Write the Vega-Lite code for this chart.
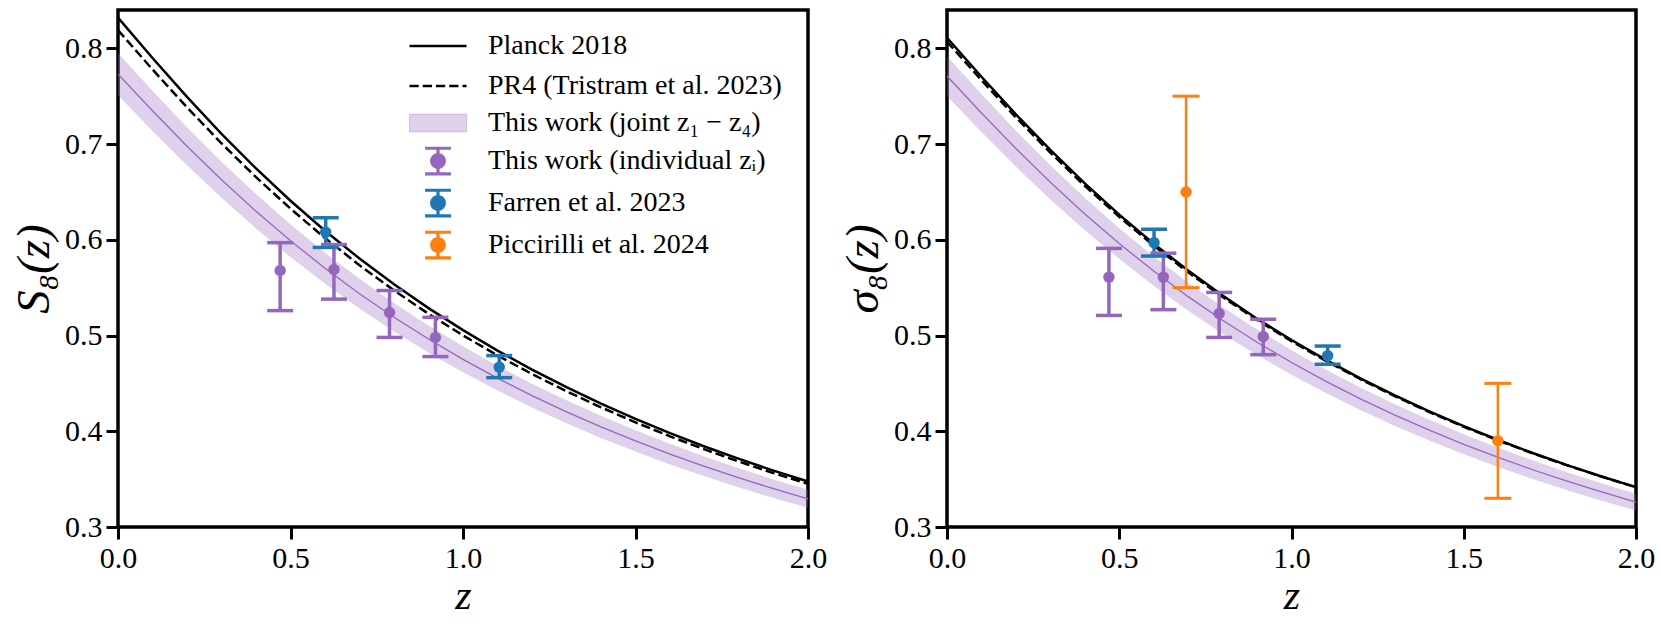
{
  "$schema": "https://vega.github.io/schema/vega-lite/v6.json",
  "background": "white",
  "padding": {"left": 8, "top": 8, "right": 0, "bottom": 0},
  "bounds": "flush",
  "spacing": 139,
  "config": {
    "font": "Liberation Serif",
    "view": {"stroke": "black", "strokeWidth": 3.5},
    "axis": {
      "domain": false, "grid": false, "ticks": true, "tickSize": 12, "tickWidth": 3, "tickColor": "black",
      "labelFont": "Liberation Serif", "labelFontSize": 30, "labelColor": "black", "labelPadding": 4, "labelFlush": false,
      "titleFont": "Liberation Serif", "titleFontSize": 42, "titleFontWeight": "normal", "titleFontStyle": "italic", "titleColor": "black"
    },
    "legend": {"labelFont": "Liberation Serif"}
  },
  "datasets": {
    "lc": [
      {"z":0.0,"planck":0.8320,"pr4":0.8190,"mid":0.7730,"lo":0.7510,"hi":0.7950},
      {"z":0.1,"planck":0.7898,"pr4":0.7779,"mid":0.7347,"lo":0.7137,"hi":0.7556},
      {"z":0.2,"planck":0.7492,"pr4":0.7383,"mid":0.6977,"lo":0.6779,"hi":0.7176},
      {"z":0.3,"planck":0.7107,"pr4":0.7007,"mid":0.6627,"lo":0.6438,"hi":0.6816},
      {"z":0.4,"planck":0.6745,"pr4":0.6654,"mid":0.6297,"lo":0.6118,"hi":0.6477},
      {"z":0.5,"planck":0.6408,"pr4":0.6325,"mid":0.5990,"lo":0.5819,"hi":0.6160},
      {"z":0.6,"planck":0.6095,"pr4":0.6018,"mid":0.5703,"lo":0.5541,"hi":0.5866},
      {"z":0.7,"planck":0.5804,"pr4":0.5734,"mid":0.5437,"lo":0.5282,"hi":0.5592},
      {"z":0.8,"planck":0.5535,"pr4":0.5471,"mid":0.5191,"lo":0.5043,"hi":0.5339},
      {"z":0.9,"planck":0.5286,"pr4":0.5227,"mid":0.4963,"lo":0.4821,"hi":0.5104},
      {"z":1.0,"planck":0.5056,"pr4":0.5001,"mid":0.4751,"lo":0.4616,"hi":0.4887},
      {"z":1.1,"planck":0.4842,"pr4":0.4792,"mid":0.4555,"lo":0.4425,"hi":0.4685},
      {"z":1.2,"planck":0.4644,"pr4":0.4598,"mid":0.4373,"lo":0.4248,"hi":0.4497},
      {"z":1.3,"planck":0.4460,"pr4":0.4418,"mid":0.4203,"lo":0.4084,"hi":0.4323},
      {"z":1.4,"planck":0.4289,"pr4":0.4250,"mid":0.4046,"lo":0.3930,"hi":0.4161},
      {"z":1.5,"planck":0.4129,"pr4":0.4093,"mid":0.3899,"lo":0.3788,"hi":0.4010},
      {"z":1.6,"planck":0.3980,"pr4":0.3947,"mid":0.3761,"lo":0.3654,"hi":0.3869},
      {"z":1.7,"planck":0.3841,"pr4":0.3811,"mid":0.3633,"lo":0.3529,"hi":0.3736},
      {"z":1.8,"planck":0.3711,"pr4":0.3683,"mid":0.3513,"lo":0.3413,"hi":0.3613},
      {"z":1.9,"planck":0.3589,"pr4":0.3563,"mid":0.3400,"lo":0.3303,"hi":0.3497},
      {"z":2.0,"planck":0.3475,"pr4":0.3451,"mid":0.3294,"lo":0.3200,"hi":0.3388}
    ],
    "rc": [
      {"z":0.0,"planck":0.8110,"pr4":0.8070,"mid":0.7710,"lo":0.7502,"hi":0.7918},
      {"z":0.1,"planck":0.7703,"pr4":0.7667,"mid":0.7324,"lo":0.7127,"hi":0.7522},
      {"z":0.2,"planck":0.7310,"pr4":0.7278,"mid":0.6953,"lo":0.6765,"hi":0.7140},
      {"z":0.3,"planck":0.6938,"pr4":0.6910,"mid":0.6600,"lo":0.6422,"hi":0.6779},
      {"z":0.4,"planck":0.6589,"pr4":0.6563,"mid":0.6269,"lo":0.6100,"hi":0.6439},
      {"z":0.5,"planck":0.6263,"pr4":0.6240,"mid":0.5960,"lo":0.5799,"hi":0.6121},
      {"z":0.6,"planck":0.5959,"pr4":0.5939,"mid":0.5673,"lo":0.5519,"hi":0.5826},
      {"z":0.7,"planck":0.5678,"pr4":0.5660,"mid":0.5406,"lo":0.5260,"hi":0.5552},
      {"z":0.8,"planck":0.5418,"pr4":0.5402,"mid":0.5159,"lo":0.5019,"hi":0.5298},
      {"z":0.9,"planck":0.5176,"pr4":0.5162,"mid":0.4930,"lo":0.4797,"hi":0.5063},
      {"z":1.0,"planck":0.4953,"pr4":0.4940,"mid":0.4718,"lo":0.4590,"hi":0.4845},
      {"z":1.1,"planck":0.4745,"pr4":0.4735,"mid":0.4521,"lo":0.4399,"hi":0.4643},
      {"z":1.2,"planck":0.4553,"pr4":0.4544,"mid":0.4339,"lo":0.4221,"hi":0.4456},
      {"z":1.3,"planck":0.4374,"pr4":0.4366,"mid":0.4169,"lo":0.4056,"hi":0.4282},
      {"z":1.4,"planck":0.4208,"pr4":0.4201,"mid":0.4011,"lo":0.3903,"hi":0.4120},
      {"z":1.5,"planck":0.4053,"pr4":0.4047,"mid":0.3864,"lo":0.3760,"hi":0.3969},
      {"z":1.6,"planck":0.3909,"pr4":0.3904,"mid":0.3727,"lo":0.3626,"hi":0.3827},
      {"z":1.7,"planck":0.3773,"pr4":0.3769,"mid":0.3598,"lo":0.3501,"hi":0.3696},
      {"z":1.8,"planck":0.3647,"pr4":0.3644,"mid":0.3478,"lo":0.3384,"hi":0.3572},
      {"z":1.9,"planck":0.3528,"pr4":0.3526,"mid":0.3366,"lo":0.3275,"hi":0.3456},
      {"z":2.0,"planck":0.3417,"pr4":0.3415,"mid":0.3260,"lo":0.3172,"hi":0.3348}
    ],
    "lp": [
      {"series":"d","z":0.47,"v":0.568,"lo":0.526,"hi":0.597},
      {"series":"d","z":0.626,"v":0.569,"lo":0.538,"hi":0.595},
      {"series":"d","z":0.787,"v":0.524,"lo":0.498,"hi":0.547},
      {"series":"d","z":0.92,"v":0.498,"lo":0.478,"hi":0.519},
      {"series":"e","z":0.602,"v":0.608,"lo":0.592,"hi":0.623},
      {"series":"e","z":1.105,"v":0.467,"lo":0.456,"hi":0.479}
    ],
    "rp": [
      {"series":"d","z":0.47,"v":0.561,"lo":0.521,"hi":0.591},
      {"series":"d","z":0.628,"v":0.561,"lo":0.527,"hi":0.586},
      {"series":"d","z":0.79,"v":0.523,"lo":0.498,"hi":0.545},
      {"series":"d","z":0.918,"v":0.499,"lo":0.480,"hi":0.517},
      {"series":"e","z":0.601,"v":0.597,"lo":0.583,"hi":0.611},
      {"series":"e","z":1.105,"v":0.479,"lo":0.470,"hi":0.489},
      {"series":"f","z":0.694,"v":0.65,"lo":0.55,"hi":0.75},
      {"series":"f","z":1.599,"v":0.39,"lo":0.33,"hi":0.45}
    ]
  },
  "hconcat": [
    {
      "width": 690, "height": 517,
      "encoding": {
        "x": {"field": "z", "type": "quantitative", "scale": {"domain": [0, 2], "nice": false}, "axis": {"values": [0, 0.5, 1, 1.5, 2], "format": ".1f", "title": "z", "titlePadding": 2}}
      },
      "layer": [
        {"data": {"name": "lc"}, "mark": {"type": "area", "color": "#9467bd", "opacity": 0.3},
         "encoding": {"y": {"field": "lo", "type": "quantitative", "scale": {"domain": [0.3, 0.84], "nice": false, "zero": false}, "axis": {"values": [0.3, 0.4, 0.5, 0.6, 0.7, 0.8], "format": ".1f", "title": "S₈(z)", "titleFontSize": 47, "titlePadding": 6}}, "y2": {"field": "hi"}}},
        {"data": {"name": "lc"}, "mark": {"type": "line", "color": "#9467bd", "strokeWidth": 1.3}, "encoding": {"y": {"field": "mid", "type": "quantitative"}}},
        {"data": {"name": "lc"}, "mark": {"type": "line", "color": "black", "strokeWidth": 2.5}, "encoding": {"y": {"field": "planck", "type": "quantitative"}}},
        {"data": {"name": "lc"}, "mark": {"type": "line", "color": "black", "strokeWidth": 2.5, "strokeDash": [9.25, 4]}, "encoding": {"y": {"field": "pr4", "type": "quantitative"}}},
        {"data": {"name": "lp"}, "mark": {"type": "rule"},
         "encoding": {
           "y": {"field": "lo", "type": "quantitative"}, "y2": {"field": "hi"},
           "strokeWidth": {"condition": {"test": "datum.series === 'f'", "value": 2.5}, "value": 3.5},
           "color": {"field": "series", "type": "nominal",
             "scale": {"domain": ["a","b","c","d","e","f"], "range": ["black","black","#9467bd","#9467bd","#1f77b4","#ff7f0e"]},
             "legend": {
               "title": null, "orient": "none", "legendX": 306, "legendY": 22, "padding": 0,
               "symbolSize": 1225, "symbolStrokeWidth": 3, "rowPadding": 2, "labelOffset": 36,
               "labelFont": "Liberation Serif", "labelFontSize": 28, "labelColor": "black", "labelLimit": 600,
               "labelExpr": "datum.value === 'a' ? 'Planck 2018' : datum.value === 'b' ? 'PR4 (Tristram et al. 2023)' : datum.value === 'c' ? 'This work (joint z₁ − z₄)' : datum.value === 'd' ? 'This work (individual zᵢ)' : datum.value === 'e' ? 'Farren et al. 2023' : 'Piccirilli et al. 2024'",
               "encode": {"symbols": {"update": {
                 "shape": {"signal": "datum.value === 'a' || datum.value === 'b' ? 'M-1.63,0H1.63M0,-0.76L0,-0.76M0,0.76L0,0.76' : datum.value === 'c' ? 'M-1.63,-0.51H1.63V0.51H-1.63ZM0,-0.76L0,-0.76M0,0.76L0,0.76' : 'M-0.74,-0.73H0.74M0,-0.73V0.73M-0.74,0.73H0.74M0,-0.76L0,-0.76M0,0.76L0,0.76M-0.36,0A0.36,0.36 0 1,0 0.36,0A0.36,0.36 0 1,0 -0.36,0Z'"},
                 "stroke": {"signal": "datum.value === 'a' || datum.value === 'b' ? 'black' : datum.value === 'c' || datum.value === 'd' ? '#9467bd' : datum.value === 'e' ? '#1f77b4' : '#ff7f0e'"},
                 "fill": {"signal": "datum.value === 'a' || datum.value === 'b' ? 'transparent' : datum.value === 'c' || datum.value === 'd' ? '#9467bd' : datum.value === 'e' ? '#1f77b4' : '#ff7f0e'"},
                 "fillOpacity": {"signal": "datum.value === 'c' ? 0.3 : 1"},
                 "strokeOpacity": {"signal": "datum.value === 'c' ? 0.3 : 1"},
                 "opacity": {"value": 1},
                 "strokeCap": {"value": "butt"},
                 "strokeWidth": {"signal": "datum.value === 'c' ? 1 : datum.value === 'a' || datum.value === 'b' ? 2.5 : 3.2"},
                 "strokeDash": {"signal": "datum.value === 'b' ? [9.25, 4] : [1, 0]"}
               }}}
             }}
         }},
        {"data": {"name": "lp"}, "transform": [{"filter": "datum.series !== 'f'"}, {"fold": ["lo", "hi"], "as": ["bound", "yv"]}],
         "mark": {"type": "tick", "orient": "horizontal", "size": 26, "thickness": 3.5, "opacity": 1},
         "encoding": {"y": {"field": "yv", "type": "quantitative"}, "color": {"field": "series", "type": "nominal", "legend": null}}},
        {"data": {"name": "lp"}, "mark": {"type": "circle", "size": 130, "opacity": 1},
         "encoding": {"y": {"field": "v", "type": "quantitative"}, "color": {"field": "series", "type": "nominal", "legend": null}}}
      ]
    },
    {
      "width": 689, "height": 517,
      "encoding": {
        "x": {"field": "z", "type": "quantitative", "scale": {"domain": [0, 2], "nice": false}, "axis": {"values": [0, 0.5, 1, 1.5, 2], "format": ".1f", "title": "z", "titlePadding": 2}}
      },
      "layer": [
        {"data": {"name": "rc"}, "mark": {"type": "area", "color": "#9467bd", "opacity": 0.3},
         "encoding": {"y": {"field": "lo", "type": "quantitative", "scale": {"domain": [0.3, 0.84], "nice": false, "zero": false}, "axis": {"values": [0.3, 0.4, 0.5, 0.6, 0.7, 0.8], "format": ".1f", "title": "σ₈(z)", "titleFontSize": 47, "titlePadding": 6}}, "y2": {"field": "hi"}}},
        {"data": {"name": "rc"}, "mark": {"type": "line", "color": "#9467bd", "strokeWidth": 1.3}, "encoding": {"y": {"field": "mid", "type": "quantitative"}}},
        {"data": {"name": "rc"}, "mark": {"type": "line", "color": "black", "strokeWidth": 2.5}, "encoding": {"y": {"field": "planck", "type": "quantitative"}}},
        {"data": {"name": "rc"}, "mark": {"type": "line", "color": "black", "strokeWidth": 2.5, "strokeDash": [9.25, 4]}, "encoding": {"y": {"field": "pr4", "type": "quantitative"}}},
        {"data": {"name": "rp"}, "mark": {"type": "rule"},
         "encoding": {
           "y": {"field": "lo", "type": "quantitative"}, "y2": {"field": "hi"},
           "strokeWidth": {"condition": {"test": "datum.series === 'f'", "value": 2.5}, "value": 3.5},
           "color": {"field": "series", "type": "nominal",
             "scale": {"domain": ["a","b","c","d","e","f"], "range": ["black","black","#9467bd","#9467bd","#1f77b4","#ff7f0e"]},
             "legend": null}
         }},
        {"data": {"name": "rp"}, "transform": [{"filter": "datum.series !== 'f'"}, {"fold": ["lo", "hi"], "as": ["bound", "yv"]}],
         "mark": {"type": "tick", "orient": "horizontal", "size": 26, "thickness": 3.5, "opacity": 1},
         "encoding": {"y": {"field": "yv", "type": "quantitative"}, "color": {"field": "series", "type": "nominal", "legend": null}}},
        {"data": {"name": "rp"}, "transform": [{"filter": "datum.series === 'f'"}, {"fold": ["lo", "hi"], "as": ["bound", "yv"]}],
         "mark": {"type": "tick", "orient": "horizontal", "size": 27, "thickness": 3, "opacity": 1},
         "encoding": {"y": {"field": "yv", "type": "quantitative"}, "color": {"field": "series", "type": "nominal", "legend": null}}},
        {"data": {"name": "rp"}, "mark": {"type": "circle", "size": 130, "opacity": 1},
         "encoding": {"y": {"field": "v", "type": "quantitative"}, "color": {"field": "series", "type": "nominal", "legend": null}}}
      ]
    }
  ],
  "resolve": {"scale": {"color": "independent"}}
}
